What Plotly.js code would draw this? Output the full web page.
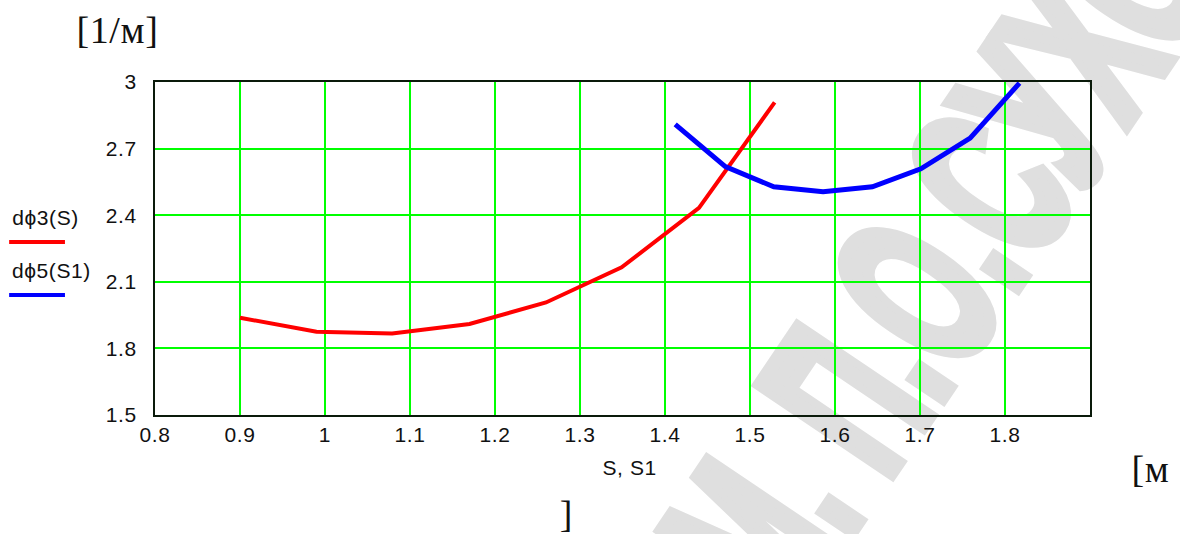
<!DOCTYPE html>
<html>
<head>
<meta charset="utf-8">
<script src="https://cdn.plot.ly/plotly-3.0.1.min.js"></script>
<style>
  html, body { margin: 0; padding: 0; background: #ffffff; }
  #wrap { position: relative; width: 1180px; height: 534px; overflow: hidden; background: #ffffff; }
  #chart { position: absolute; left: 0; top: 0; width: 1180px; height: 534px; z-index: 1; }
  #chart text { letter-spacing: 0.6px; }
  #mark {
    position: absolute; z-index: 0; white-space: pre;
    font-family: "Liberation Sans", Arial, sans-serif; font-weight: bold;
    font-size: 230px; line-height: 1; color: #dfdfdf;
    -webkit-text-stroke: 14px #dfdfdf;
    transform: translate(-50%, -50%) rotate(-56deg) scaleX(0.55);
  }
</style>
</head>
<body>
<div id="wrap">
  <div id="mark"></div>
  <div id="chart"></div>
</div>
<script>
// Curvature derivatives of the two cam profiles versus path length
const S      = [0.9, 0.99, 1.079, 1.17, 1.26, 1.349, 1.44, 1.529];
const dphi3  = [1.938, 1.875, 1.867, 1.91, 2.007, 2.165, 2.433, 2.908];
const S1     = [1.412, 1.471, 1.528, 1.586, 1.644, 1.701, 1.759, 1.817];
const dphi5  = [2.809, 2.619, 2.528, 2.506, 2.528, 2.609, 2.747, 2.995];

const seriesNames = ["d\u03D53(S)", "d\u03D55(S1)"];
const seriesColors = ["#ff0000", "#0000ff"];

const xTickVals = [0.8, 0.9, 1.0, 1.1, 1.2, 1.3, 1.4, 1.5, 1.6, 1.7, 1.8];
const xTickText = ["0.8", "0.9", "1", "1.1", "1.2", "1.3", "1.4", "1.5", "1.6", "1.7", "1.8"];
const yTickVals = [1.5, 1.8, 2.1, 2.4, 2.7, 3.0];
const yTickText = ["1.5", "1.8", "2.1", "2.4", "2.7", "3"];

const xAxisLabel = "S, S1";
const yUnit = "[1/\u043C]";
const xUnitOpen = "[\u043C";
const xUnitClose = "]";
const watermark = "\u0418\u041C. \u041F.\u041E.\u0421\u0423\u0425\u041E\u0413\u041E";

// background watermark, centred on the middle of the string
const mark = document.getElementById("mark");
mark.textContent = watermark;
mark.style.left = "962px";
mark.style.top = "227px";

const tickFont = { family: "Liberation Sans, Arial, sans-serif", size: 21, color: "#111111" };
const serifFont = { family: "Liberation Serif, Times New Roman, serif", size: 38, color: "#111111" };

const traces = [
  { x: S,  y: dphi3, name: seriesNames[0], mode: "lines", line: { color: seriesColors[0], width: 4 } },
  { x: S1, y: dphi5, name: seriesNames[1], mode: "lines", line: { color: seriesColors[1], width: 5 } }
];

const layout = {
  width: 1180,
  height: 534,
  margin: { l: 155, r: 90, t: 82, b: 119 },
  paper_bgcolor: "rgba(0,0,0,0)",
  plot_bgcolor: "rgba(0,0,0,0)",
  showlegend: false,
  xaxis: {
    range: [0.8, 1.9],
    tickvals: xTickVals,
    ticktext: xTickText,
    tickfont: tickFont,
    showgrid: true,
    gridcolor: "#00ff00",
    gridwidth: 2,
    zeroline: false,
    showline: true,
    linecolor: "#0a1a0a",
    linewidth: 2,
    mirror: true,
    ticks: "",
    ticklabelstandoff: 0
  },
  yaxis: {
    range: [1.5, 3.0],
    tickvals: yTickVals,
    ticktext: yTickText,
    tickfont: tickFont,
    showgrid: true,
    gridcolor: "#00ff00",
    gridwidth: 2,
    zeroline: false,
    showline: true,
    linecolor: "#0a1a0a",
    linewidth: 2,
    mirror: true,
    ticks: "",
    ticklabelstandoff: 12
  },
  shapes: [
    { type: "line", xref: "paper", yref: "paper", x0: -0.156, x1: -0.0963, y0: 0.5195, y1: 0.5195,
      line: { color: seriesColors[0], width: 4 } },
    { type: "line", xref: "paper", yref: "paper", x0: -0.156, x1: -0.0963, y0: 0.3604, y1: 0.3604,
      line: { color: seriesColors[1], width: 4 } }
  ],
  annotations: [
    { text: seriesNames[0], xref: "paper", yref: "paper", x: -0.1529, y: 0.5916,
      xanchor: "left", yanchor: "middle", showarrow: false, font: tickFont },
    { text: seriesNames[1], xref: "paper", yref: "paper", x: -0.1529, y: 0.4354,
      xanchor: "left", yanchor: "middle", showarrow: false, font: tickFont },
    { text: xAxisLabel, xref: "paper", yref: "paper", x: 0.507, y: -0.159,
      xanchor: "center", yanchor: "middle", showarrow: false, font: tickFont },
    { text: yUnit, xref: "paper", yref: "paper", x: -0.0845, y: 1.156,
      xanchor: "left", yanchor: "middle", showarrow: false, font: serifFont },
    { text: xUnitOpen, xref: "paper", yref: "paper", x: 1.0428, y: -0.162,
      xanchor: "left", yanchor: "middle", showarrow: false, font: serifFont },
    { text: xUnitClose, xref: "paper", yref: "paper", x: 0.4396, y: -0.297,
      xanchor: "center", yanchor: "middle", showarrow: false, font: serifFont }
  ]
};

Plotly.newPlot("chart", traces, layout, { displayModeBar: false, staticPlot: true });
</script>
</body>
</html>
